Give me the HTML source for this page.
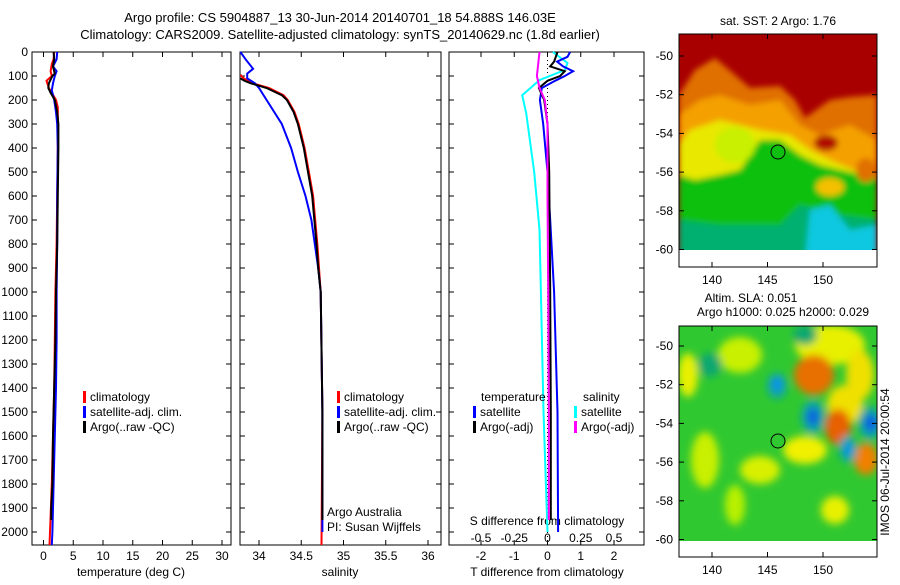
<!DOCTYPE html>
<html><head><meta charset="utf-8"><style>
body{margin:0;background:#fff;width:900px;height:580px;overflow:hidden}
svg text{font-family:"Liberation Sans",sans-serif;font-size:12px;fill:#000}
</style></head><body>
<svg id="c" width="900" height="580" xmlns="http://www.w3.org/2000/svg">
<defs>
<filter id="b3"><feGaussianBlur stdDeviation="3"/></filter>
<filter id="b4"><feGaussianBlur stdDeviation="4"/></filter>
<clipPath id="m1c"><rect x="679" y="34" width="198" height="216"/></clipPath>
<clipPath id="m2c"><rect x="679" y="326" width="198" height="215"/></clipPath>
</defs>
<text x="340" y="22" text-anchor="middle" style="font-size:13px">Argo profile: CS 5904887_13 30-Jun-2014 20140701_18 54.888S 146.03E</text>
<text x="340" y="39" text-anchor="middle" style="font-size:13px">Climatology: CARS2009. Satellite-adjusted climatology: synTS_20140629.nc (1.8d earlier)</text>

<g>
<text x="778" y="25" text-anchor="middle">sat. SST: 2 Argo: 1.76</text>
<g clip-path="url(#m1c)">
<rect x="679" y="34" width="198" height="216" fill="#a80000"/>
<g filter="url(#b3)">
<polygon points="679,95 695,70 715,58 735,75 750,88 780,86 795,100 805,118 830,100 850,97 877,95 877,260 679,260" fill="#e07000"/>
<polygon points="679,115 700,100 720,95 750,105 780,100 800,125 820,135 850,125 877,140 877,260 679,260" fill="#f4a000"/>
<polygon points="679,145 690,130 720,120 760,130 790,135 810,150 830,160 877,180 877,260 679,260" fill="#e8e800"/>
<polygon points="679,175 695,180 720,175 740,170 760,140 780,140 800,155 820,165 840,170 877,178 877,260 679,260" fill="#10c010"/>
<polygon points="679,220 720,225 780,225 800,205 840,215 877,220 877,260 679,260" fill="#00b070"/>
<polygon points="810,210 830,205 850,230 877,225 877,260 805,260" fill="#10c8e0"/>
<ellipse cx="826" cy="143" rx="12" ry="8" fill="#b01000"/>
<ellipse cx="866" cy="170" rx="10" ry="12" fill="#e07000"/>
<ellipse cx="830" cy="187" rx="14" ry="9" fill="#f4c000"/>
<ellipse cx="735" cy="145" rx="20" ry="18" fill="#c8f000"/>
</g>
</g>
<rect x="679" y="250" width="198" height="17" fill="#fff"/>
<rect x="679" y="34" width="198" height="233" fill="none" stroke="#000"/>
<circle cx="778" cy="152" r="7" fill="#10c010" stroke="#000"/>
<g id="m1ticks"></g>
</g>

<g>
<text x="751" y="302" text-anchor="middle">Altim. SLA: 0.051</text>
<text x="783" y="316" text-anchor="middle">Argo h1000: 0.025 h2000: 0.029</text>
<g clip-path="url(#m2c)">
<rect x="679" y="326" width="198" height="215" fill="#30c830"/>
<g filter="url(#b4)">
<ellipse cx="688" cy="375" rx="10" ry="22" fill="#e8f000"/>
<ellipse cx="740" cy="355" rx="22" ry="18" fill="#c8f000"/>
<ellipse cx="705" cy="460" rx="14" ry="28" fill="#c8f000"/>
<ellipse cx="760" cy="470" rx="20" ry="14" fill="#d8f000"/>
<ellipse cx="735" cy="505" rx="10" ry="20" fill="#b8f000"/>
<ellipse cx="830" cy="345" rx="35" ry="20" fill="#e8f000"/>
<ellipse cx="860" cy="375" rx="14" ry="25" fill="#f0e000"/>
<ellipse cx="835" cy="510" rx="14" ry="14" fill="#e8f000"/>
<ellipse cx="805" cy="450" rx="22" ry="14" fill="#f0f000"/>
<ellipse cx="845" cy="405" rx="18" ry="20" fill="#f0e000"/>
<ellipse cx="710" cy="365" rx="12" ry="12" fill="#10a870"/>
<ellipse cx="805" cy="335" rx="12" ry="10" fill="#10a870"/>
<ellipse cx="814" cy="375" rx="20" ry="20" fill="#e87000"/>
<ellipse cx="838" cy="427" rx="13" ry="18" fill="#e86000"/>
<ellipse cx="866" cy="459" rx="12" ry="16" fill="#f08000"/>
<ellipse cx="777" cy="386" rx="10" ry="13" fill="#10a8a0"/>
<ellipse cx="813" cy="417" rx="12" ry="17" fill="#10a8a0"/>
<ellipse cx="870" cy="423" rx="12" ry="17" fill="#10a8a0"/>
<ellipse cx="848" cy="449" rx="9" ry="14" fill="#10a8a0"/>
<ellipse cx="777" cy="384" rx="5" ry="7" fill="#1090f0"/>
<ellipse cx="813" cy="417" rx="6" ry="9" fill="#1060e0"/>
<ellipse cx="871" cy="423" rx="7" ry="9" fill="#1060e0"/>
<ellipse cx="848" cy="449" rx="4" ry="7" fill="#1090f0"/>
</g>
</g>
<rect x="679" y="541" width="198" height="16" fill="#fff"/>
<rect x="679" y="326" width="198" height="231" fill="none" stroke="#000"/>
<circle cx="778" cy="441" r="7" fill="#30c830" stroke="#000"/>
<g id="m2ticks"></g>
</g>
<text transform="translate(889,462) rotate(-90)" text-anchor="middle">IMOS 06-Jul-2014 20:00:54</text>
<g id="plots"></g>
</svg>
<script>
// ---- data ----
const depthTicks=[0,100,200,300,400,500,600,700,800,900,1000,1100,1200,1300,1400,1500,1600,1700,1800,1900,2000];
const tempTicks=[0,5,10,15,20,25,30];
const salTicks=[34,34.5,35,35.5,36];
const salTickLabels=["34","34.5","35","35.5","36"];
const tdiffTicks=[-2,-1,0,1,2];
const sdiffTicks=[-0.5,-0.25,0,0.25,0.5];
const sdiffTickLabels=["-0.5","-0.25","0","0.25","0.5"];
const lonTicks=[140,145,150];
const latTicks=[-50,-52,-54,-56,-58,-60];

const tClimDepth=[0,30,50,80,100,120,150,170,200,230,300,400,600,800,1000,1200,1400,1600,1800,2000,2054];
const tClimVal=[1.8,1.7,1.4,1.2,1.4,0.5,0.9,1.4,2.1,2.4,2.4,2.4,2.3,2.2,2.0,1.9,1.8,1.6,1.4,1.1,1.0];
const tSatDepth=[0,30,60,80,100,130,160,200,250,300,400,600,800,1000,1200,1400,1600,1800,2000,2054];
const tSatVal=[2.3,2.2,1.6,2.2,1.9,1.6,1.4,1.8,2.1,2.3,2.4,2.3,2.3,2.2,2.2,2.1,1.9,1.7,1.5,1.4];
const tArgoDepth=[0,30,60,90,100,130,150,170,200,250,300,400,600,800,1000,1200,1400,1600,1800,1900,1950];
const tArgoVal=[1.7,1.8,1.6,1.9,1.5,0.9,0.8,1.2,1.9,2.3,2.5,2.5,2.4,2.3,2.1,2.0,1.8,1.6,1.5,1.3,1.3];

const sClimDepth=[95,110,130,150,180,200,250,300,400,500,600,800,1000,1500,2054];
const sClimVal=[33.78,33.82,33.92,34.12,34.29,34.34,34.42,34.47,34.54,34.59,34.64,34.69,34.73,34.75,34.74];
const sSatDepth=[0,30,70,90,110,130,150,200,300,400,500,600,700,900,1000,1500,2000];
const sSatVal=[33.78,33.84,33.93,33.86,33.86,33.95,34.0,34.09,34.27,34.38,34.46,34.55,34.62,34.70,34.73,34.75,34.75];
const sArgoDepth=[110,120,130,150,180,200,250,300,400,500,600,800,900,1000,1500,1950];
const sArgoVal=[33.78,33.83,33.9,34.09,34.27,34.33,34.41,34.46,34.53,34.58,34.63,34.68,34.70,34.73,34.75,34.75];

const dTSatDepth=[0,20,40,60,80,100,120,150,200,300,500,700,1000,1500,2000];
const dTSatVal=[0.68,0.6,0.29,0.47,0.77,0.52,0.23,-0.17,-0.23,-0.13,0,0.08,0.2,0.3,0.32];
const dTArgoDepth=[0,40,60,80,100,120,150,200,300,500,1000,1500,1950];
const dTArgoVal=[0.3,0.2,0.08,0.52,0.38,0,-0.26,-0.1,0,0.05,0.08,0.1,0.1];
const dSSatDepth=[0,46,75,117,180,254,500,740,1000,1500,2000];
const dSSatVal=[0.04,0.15,0.13,-0.06,-0.19,-0.16,-0.1,-0.06,-0.05,-0.03,0];
const dSArgoDepth=[0,100,150,200,300,600,1000,1500,1950];
const dSArgoVal=[-0.06,-0.08,-0.06,-0.02,0,0,0.005,0.01,0.01];

// ---- helpers ----
const NS="http://www.w3.org/2000/svg";
const root=document.getElementById('plots');
const B=545;
const yD=d=>52+d*0.24;
function mk(tag,attrs,parent){const e=document.createElementNS(NS,tag);for(const k in attrs)e.setAttribute(k,attrs[k]);(parent||root).appendChild(e);return e;}
function panel(x0,x1,name){
  const r=mk('rect',{x:x0,y:52,width:x1-x0,height:B-52,fill:'none',stroke:'#000'});
  
  
  depthTicks.forEach(d=>{
    const y=yD(d);
    mk('line',{x1:x0,x2:x0+5,y1:y,y2:y,stroke:'#000'});
    mk('line',{x1:x1-5,x2:x1,y1:y,y2:y,stroke:'#000'});
  });
}
function xticks(x0,x1,ticks,labels,fx,yLab,name){
  ticks.forEach((v,i)=>{
    const x=fx(v);
    mk('line',{x1:x,x2:x,y1:B-5,y2:B,stroke:'#000'});
    mk('line',{x1:x,x2:x,y1:52,y2:57,stroke:'#000'});
    const t=mk('text',{x:x,y:yLab,'text-anchor':'middle'});t.textContent=labels[i];
    
    
  });
}
function line(dep,val,fx,color,name){
  const p=dep.map((d,i)=>fx(val[i]).toFixed(1)+','+yD(d).toFixed(1)).join(' ');
  const l=mk('polyline',{points:p,fill:'none',stroke:color,'stroke-width':2});
  
  
}
function legend(x,y,color,label,name){
  mk('rect',{x:x,y:y-10,width:3,height:12,fill:color});
  const t=mk('text',{x:x+7,y:y});t.textContent=label;
  
  
}
function txt(x,y,s,name,anchor){const t=mk('text',{x:x,y:y,'text-anchor':anchor||'start'});t.textContent=s;
  
  return t;}

depthTicks.forEach(d=>{txt(28,yD(d)+4,String(d),'depth-tick-label','end');});

const fT=v=>43.5+v*5.95;
panel(32,231,'temperature-panel');
xticks(32,231,tempTicks,tempTicks.map(String),fT,560,'temperature');
txt(131,576,'temperature (deg C)','temperature-axis-title','middle');
line(tClimDepth,tClimVal,fT,'#f00','temp-climatology-line');
line(tSatDepth,tSatVal,fT,'#00f','temp-satellite-line');
line(tArgoDepth,tArgoVal,fT,'#000','temp-argo-line');
legend(83,401,'#f00','climatology','legend-climatology');
legend(83,416,'#00f','satellite-adj. clim.','legend-satellite');
legend(83,431,'#000','Argo(..raw -QC)','legend-argo');

const fS=v=>259+(v-34)*84.5;
panel(240,441,'salinity-panel');
xticks(240,441,salTicks,salTickLabels,fS,560,'salinity');
txt(340,576,'salinity','salinity-axis-title','middle');
line(sClimDepth,sClimVal,fS,'#f00','sal-climatology-line');
line(sSatDepth,sSatVal,fS,'#00f','sal-satellite-line');
line(sArgoDepth,sArgoVal,fS,'#000','sal-argo-line');
legend(337,401,'#f00','climatology','legend-climatology-sal');
legend(337,416,'#00f','satellite-adj. clim.','legend-satellite-sal');
legend(337,431,'#000','Argo(..raw -QC)','legend-argo-sal');
txt(327,516,'Argo Australia','argo-australia-label');
txt(327,531,'PI: Susan Wijffels','pi-label');

const fDT=v=>547.5+v*33.25;
const fDS=v=>547.5+v*133;
panel(449,644,'difference-panel');
xticks(449,644,tdiffTicks,tdiffTicks.map(String),fDT,560,'t-diff');
sdiffTicks.forEach((v,i)=>txt(fDS(v),542,sdiffTickLabels[i],'s-diff-tick-label','middle'));
txt(547,525,'S difference from climatology','s-diff-axis-title','middle');
txt(547,576,'T difference from climatology','t-diff-axis-title','middle');
mk('line',{x1:fDT(0),x2:fDT(0),y1:52,y2:B,stroke:'#000','stroke-dasharray':'1,3'});
line(dSSatDepth,dSSatVal,fDS,'#0ff','s-diff-satellite-line');
line(dTSatDepth,dTSatVal,fDT,'#00f','t-diff-satellite-line');
line(dTArgoDepth,dTArgoVal,fDT,'#000','t-diff-argo-line');
line(dSArgoDepth,dSArgoVal,fDS,'#f0f','s-diff-argo-line');
txt(481,401,'temperature','legend-temperature-header');
txt(583,401,'salinity','legend-salinity-header');
legend(473,416,'#00f','satellite','legend-t-satellite');
legend(473,431,'#000','Argo(-adj)','legend-t-argo');
legend(574,416,'#0ff','satellite','legend-s-satellite');
legend(574,431,'#f0f','Argo(-adj)','legend-s-argo');

function mapTicks(gid,y0,y1,latY0,bottomLab){
  const g=document.getElementById(gid);
  const fx=lon=>712+(lon-140)*11.1;
  const fy=lat=>latY0+(-50-lat)*19.35;
  lonTicks.forEach(l=>{const x=fx(l);
    mk('line',{x1:x,x2:x,y1:y0,y2:y0+5,stroke:'#000'},g);
    mk('line',{x1:x,x2:x,y1:y1-5,y2:y1,stroke:'#000'},g);
    const t=mk('text',{x:x,y:bottomLab,'text-anchor':'middle'},g);t.textContent=String(l);
    
    });
  latTicks.forEach(l=>{const y=fy(l);
    mk('line',{x1:679,x2:684,y1:y,y2:y,stroke:'#000'},g);
    mk('line',{x1:872,x2:877,y1:y,y2:y,stroke:'#000'},g);
    const t=mk('text',{x:673,y:y+4,'text-anchor':'end'},g);t.textContent=String(l);
    
    });
}
mapTicks('m1ticks',34,267,56,284);
mapTicks('m2ticks',326,557,346,574);
</script>
</body></html>
